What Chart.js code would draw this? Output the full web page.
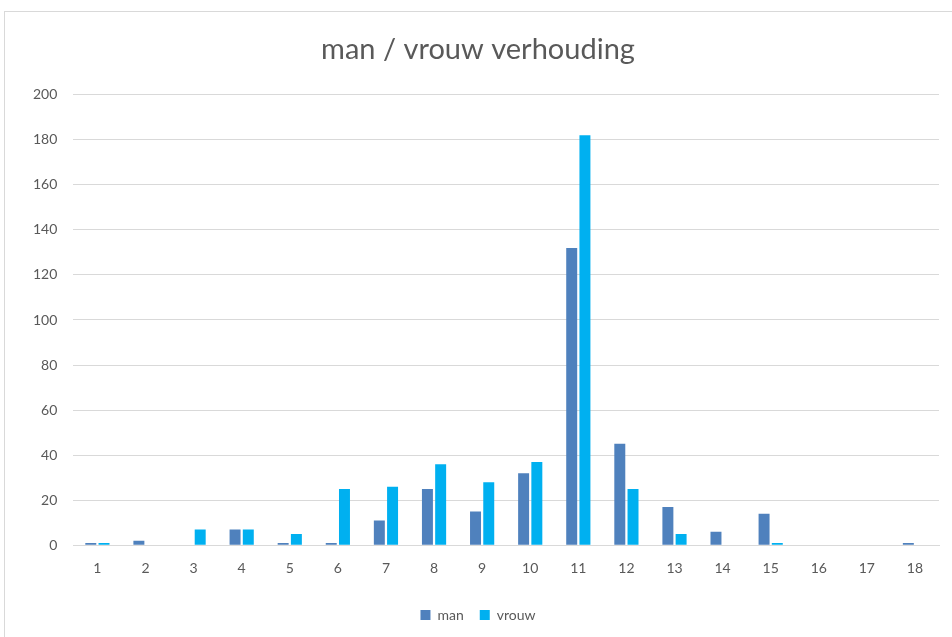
<!DOCTYPE html>
<html>
<head>
<meta charset="utf-8">
<script src="https://cdn.jsdelivr.net/npm/chart.js@4/dist/chart.umd.min.js"></script>
<style>
    body { margin: 0; background: #fff; overflow: hidden; }
    #frame {
        position: absolute; left: 4px; top: 11px;
        width: 960px; height: 640px;
        border: 1px solid #d9d9d9; box-sizing: border-box;
    }
    #wrap { position: absolute; left: 0; top: 0; width: 948px; height: 626px; }
</style>
</head>
<body>
<div id="frame"><div id="wrap"><canvas id="barChart"></canvas></div></div>
<script>
// categories + series
const categories = ['1', '2', '3', '4', '5', '6', '7', '8', '9', '10', '11', '12', '13', '14', '15', '16', '17', '18'];
const manValues = [1, 2, 0, 7, 1, 1, 11, 25, 15, 32, 132, 45, 17, 6, 14, 0, 0, 1];
const vrouwValues = [1, 0, 7, 7, 5, 25, 26, 36, 28, 37, 182, 25, 5, 0, 1, 0, 0, 0];

const fontFamily = 'Lato, "Open Sans", sans-serif';
const textColor = '#595959';

const config = {
    type: 'bar',
    data: {
        labels: categories,
        datasets: [{
            label: 'man',
            data: manValues,
            backgroundColor: '#4f81bd',
            categoryPercentage: 0.55,
            barPercentage: 0.83
        }, {
            label: 'vrouw',
            data: vrouwValues,
            backgroundColor: '#00b0f0',
            categoryPercentage: 0.55,
            barPercentage: 0.83
        }]
    },
    options: {
        responsive: true,
        maintainAspectRatio: false,
        animation: false,
        layout: {
            padding: { left: 12, right: 14, top: 8, bottom: 6 }
        },
        plugins: {
            title: {
                display: true,
                text: 'man / vrouw verhouding',
                color: textColor,
                font: { family: fontFamily, size: 29, weight: 'normal' },
                padding: { top: 12, bottom: 28 }
            },
            legend: {
                position: 'bottom',
                labels: {
                    color: textColor,
                    font: { family: fontFamily, size: 14 },
                    boxWidth: 10,
                    boxHeight: 10,
                    padding: 16
                }
            },
            tooltip: { enabled: false }
        },
        scales: {
            x: {
                grid: { display: false, drawTicks: false },
                border: { color: '#d9d9d9' },
                ticks: {
                    color: textColor,
                    font: { family: fontFamily, size: 14 },
                    padding: 15
                }
            },
            y: {
                min: 0,
                max: 200,
                grid: { color: '#d9d9d9', drawTicks: false },
                border: { display: false },
                ticks: {
                    stepSize: 20,
                    color: textColor,
                    font: { family: fontFamily, size: 14 },
                    padding: 16
                }
            }
        }
    }
};

new Chart(document.getElementById('barChart'), config);
</script>
</body>
</html>
